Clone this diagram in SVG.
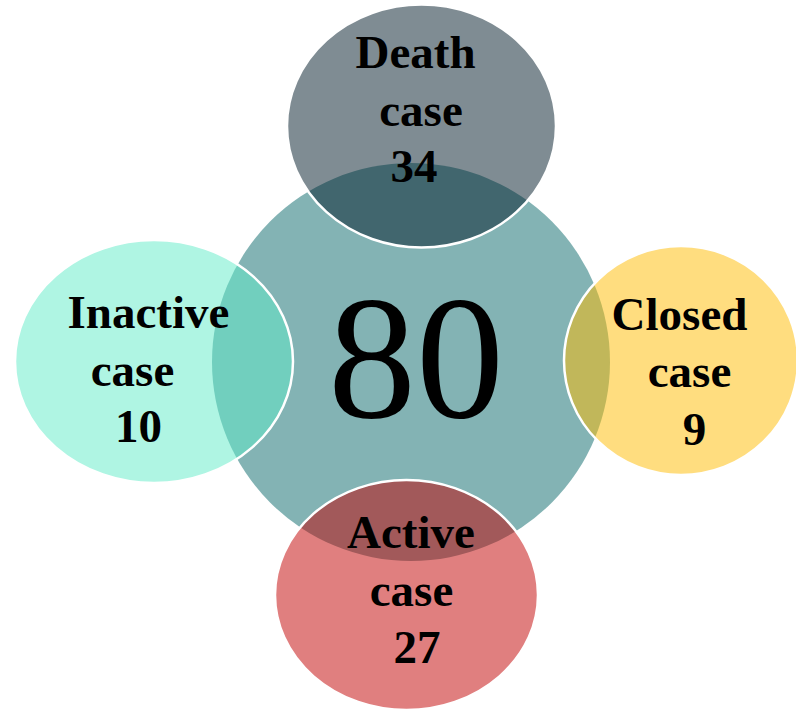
<svg xmlns="http://www.w3.org/2000/svg" width="796" height="709" viewBox="0 0 796 709">
<style>
.outer{fill-opacity:0.5;stroke:#ffffff;stroke-width:2.5}
.lbl{font-family:"Liberation Serif","Times New Roman",serif;font-weight:bold;font-size:47px;fill:#000;text-anchor:middle}
.big{font-family:"Liberation Serif","Times New Roman",serif;font-size:176px;fill:#000;text-anchor:middle}
</style>
<rect width="796" height="709" fill="#ffffff"/>
<g id="center">
<circle cx="411" cy="362" r="199" fill="#83b3b4"/>
</g>
<g id="death">
<ellipse class="outer" cx="421.5" cy="126" rx="134.5" ry="121.5" fill="#001927"/>
</g>
<g id="inactive">
<ellipse class="outer" cx="154" cy="361.5" rx="139" ry="121.5" fill="#5febc7"/>
</g>
<g id="closed">
<ellipse class="outer" cx="681" cy="360.5" rx="117" ry="114.5" fill="#ffbb00"/>
</g>
<g id="active">
<ellipse class="outer" cx="406.5" cy="595" rx="131.5" ry="115" fill="#c10000"/>
</g>
<g id="connectors"></g>
<g id="labels">
<text class="big" x="416" y="417">80</text>
<text class="lbl"><tspan x="415.5" y="68">Death</tspan><tspan x="421" y="126">case</tspan><tspan x="414" y="182">34</tspan></text>
<text class="lbl"><tspan x="148.5" y="328">Inactive</tspan><tspan x="132.5" y="386">case</tspan><tspan x="138.5" y="442">10</tspan></text>
<text class="lbl"><tspan x="679.5" y="330">Closed</tspan><tspan x="689.5" y="387">case</tspan><tspan x="694.5" y="445">9</tspan></text>
<text class="lbl"><tspan x="411" y="548">Active</tspan><tspan x="411.5" y="606">case</tspan><tspan x="417" y="663">27</tspan></text>
</g>
</svg>
